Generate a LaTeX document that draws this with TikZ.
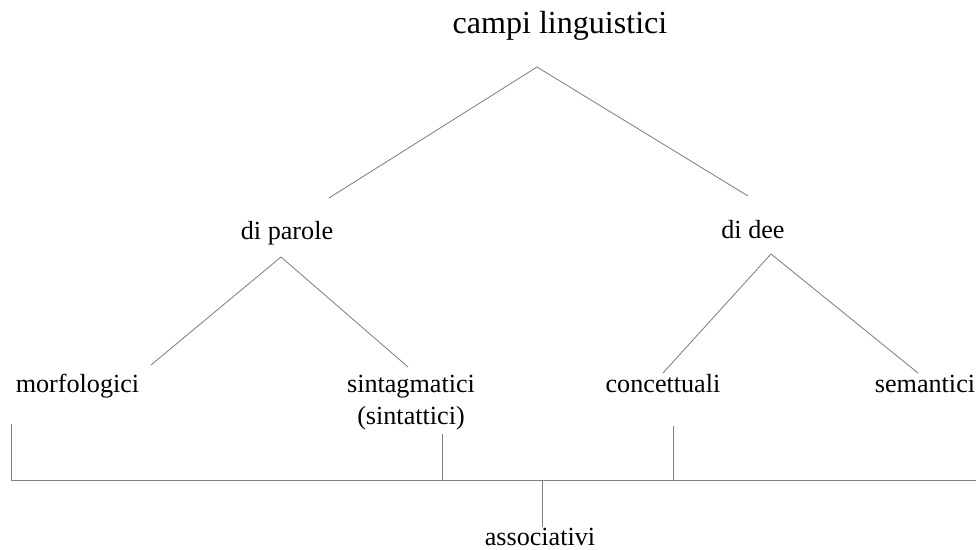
\documentclass[tikz,border=0pt]{standalone}
\usepackage{fontspec}
\setmainfont{Liberation Serif}
\usetikzlibrary{positioning}

\begin{document}
\begin{tikzpicture}[x=0.025cm,y=-0.025cm,
  branch/.style={gray,line width=0.6pt},
  word/.style={anchor=base,inner sep=0pt,font=\fontsize{18.6}{22.8}\selectfont},
  root/.style={anchor=base,inner sep=0pt,font=\fontsize{22.8}{27}\selectfont}]
\useasboundingbox (0,0) rectangle (976,550);
\node[root] (cl) at (560,34) {campi linguistici};
\node[word] (dp) at (287,240) {di parole};
\node[word] (dd) at (753,239) {di dee};
\node[word] (mo) at (77.5,393) {morfologici};
\node[word,align=center] (si) at (411,425) {sintagmatici\\(sintattici)};
\node[word] (co) at (663,393) {concettuali};
\node[word] (se) at (925,393) {semantici};
\node[word] (as) at (540,546) {associativi};
% end points of the branches
\coordinate (cl-a) at (537,67);
\coordinate (dp-t) at (329,198);
\coordinate (dd-t) at (748,196);
\coordinate (dp-a) at (281,257);
\coordinate (mo-t) at (151,365);
\coordinate (si-t) at (408,367);
\coordinate (dd-a) at (771,254);
\coordinate (co-t) at (663,373);
\coordinate (se-t) at (918,373);
\draw[branch] (dp-t) -- (cl-a) -- (dd-t);
\draw[branch] (mo-t) -- (dp-a) -- (si-t);
\draw[branch] (co-t) -- (dd-a) -- (se-t);
% bracket for the associative fields
\coordinate (mo-b) at (11,424);
\coordinate (si-b) at (442,434);
\coordinate (co-b) at (673,426);
\coordinate (as-t) at (542,527);
\draw[branch] (mo-b) -- (mo-b |- 0,480) -- (976,480);
\draw[branch] (si-b) -- (si-b |- 0,480);
\draw[branch] (co-b) -- (co-b |- 0,480);
\draw[branch] (as-t |- 0,480) -- (as-t);
\end{tikzpicture}
\end{document}
